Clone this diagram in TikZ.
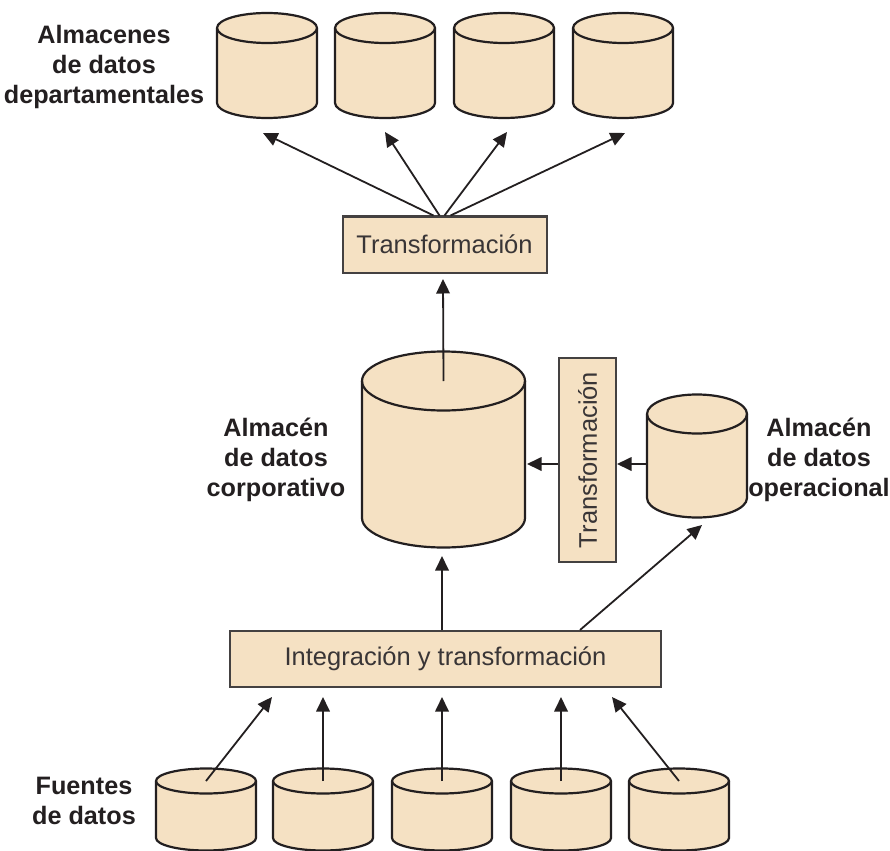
\documentclass[tikz,border=0pt]{standalone}
\usepackage{fontspec}
\setmainfont{Liberation Sans}
\usetikzlibrary{arrows.meta}
\definecolor{cylfill}{HTML}{F5E1C3}
\definecolor{ink}{HTML}{231F20}
\newcommand\dbcyl[6]{% name, cx, top-centre y, bottom-centre y, rx, ry
  \path[cylbody] ({#2-#5},#3) -- ({#2-#5},#4)
    arc[start angle=180,end angle=0,x radius=#5,y radius=#6]
    -- ({#2+#5},#3)
    arc[start angle=0,end angle=-180,x radius=#5,y radius=#6] -- cycle;
  \draw[cylline] ({#2-#5},#3) arc[start angle=180,end angle=0,x radius=#5,y radius=#6];
  \coordinate (#1) at (#2,#3);
}
\begin{document}
\begin{tikzpicture}[x=1pt,y=-1pt,
  cylbody/.style={fill=cylfill,draw=ink,line width=2.2pt,line join=round},
  cylline/.style={draw=ink,line width=2.2pt},
  procbox/.style={draw=ink!85,fill=cylfill,line width=2pt,inner sep=0pt,
     font=\fontsize{25.5}{30}\selectfont,text=ink!90},
  lbl/.style={align=center,font=\bfseries\fontsize{25.2}{30}\selectfont,text=ink,inner sep=0pt},
  arr/.style={draw=ink,line width=1.8pt,-{Triangle[length=14.5pt,width=13.5pt]}}]
\useasboundingbox[fill=white] (0,0) rectangle (890,850);

% top departmental stores
\dbcyl{d1}{267}{28}{103}{50}{15}
\dbcyl{d2}{385}{28}{103}{50}{15}
\dbcyl{d3}{504}{28}{103}{50}{15}
\dbcyl{d4}{623}{28}{103}{50}{15}

% corporate warehouse
\dbcyl{corp}{443.5}{381}{518}{81.5}{29.5}
% operational store
\dbcyl{oper}{697}{414}{498}{50}{19.5}

% sources
\dbcyl{s1}{206}{781}{838}{50}{12.5}
\dbcyl{s2}{323}{781}{838}{50}{12.5}
\dbcyl{s3}{442}{781}{838}{50}{12.5}
\dbcyl{s4}{561}{781}{838}{50}{12.5}
\dbcyl{s5}{679}{781}{838}{50}{12.5}

% boxes
\node[procbox,minimum width=204pt,minimum height=56pt] (tr) at (444.5,244.5) {Transformación};
\node[procbox,minimum width=204pt,minimum height=57pt,rotate=90] (vt) at (587.5,460) {Transformación};
\node[procbox,minimum width=431pt,minimum height=56pt] (it) at (445.5,659) {Integración y transformación};

% labels
\node[lbl] (ldep) at (104,67) {Almacenes\\de datos\\departamentales};
\node[lbl] (lcorp) at (276,460) {Almacén\\de datos\\corporativo};
\node[lbl] (lop) at (819,460) {Almacén\\de datos\\operacional};
\node[lbl] (lsrc) at (84,801) {Fuentes\\de datos};

% arrow end coordinates
\coordinate (t1) at (263,133);
\coordinate (t2) at (385,132);
\coordinate (t3) at (507,132);
\coordinate (t4) at (625,133);
\coordinate (trin) at (443,279);
\coordinate (corpin) at (442,556);
\coordinate (corpside) at (527,464);
\coordinate (vtside) at (617,464);
\coordinate (operin) at (702,525);
\coordinate (i1) at (272,697);
\coordinate (i2) at (323,697);
\coordinate (i3) at (442,697);
\coordinate (i4) at (561,697);
\coordinate (i5) at (612,697);

% connectors
\draw[arr] (tr.north) ++(-11,0) -- (t1);
\draw[arr] (tr.north) ++(-5,0) -- (t2);
\draw[arr] (tr.north) ++(0,0) -- (t3);
\draw[arr] (tr.north) ++(6,0) -- (t4);
\draw[arr] (corp) -- (trin);
\draw[arr] (vt.north |- corpside) -- (corpside);
\draw[arr] ({697-50},464) -- (vtside);
\draw[arr] (it.north -| corpin) -- (corpin);
\draw[arr] (it.north -| 580,0) -- (operin);
\draw[arr] (s1) -- (i1);
\draw[arr] (s2) -- (i2);
\draw[arr] (s3) -- (i3);
\draw[arr] (s4) -- (i4);
\draw[arr] (s5) -- (i5);
\end{tikzpicture}
\end{document}
